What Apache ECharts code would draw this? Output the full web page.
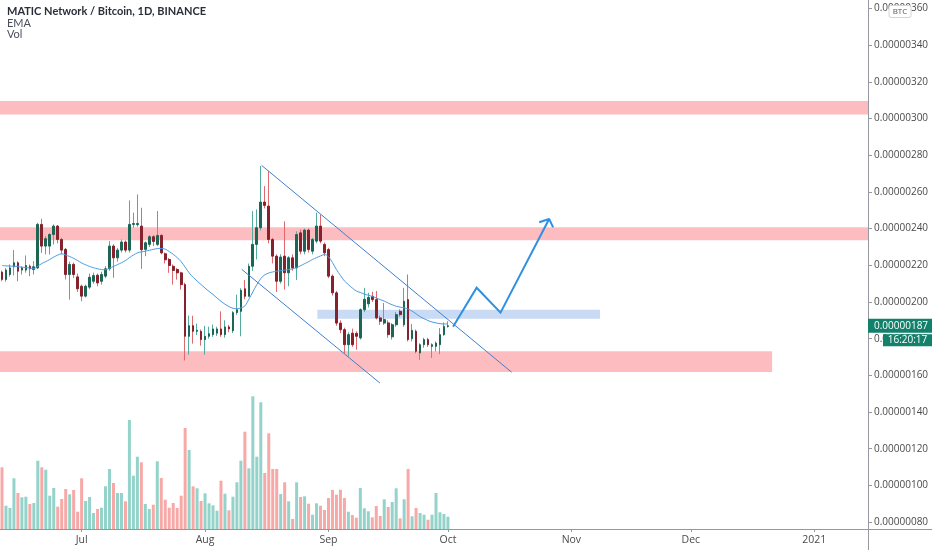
<!DOCTYPE html>
<html><head><meta charset="utf-8">
<script src="https://cdn.jsdelivr.net/npm/echarts@6/dist/echarts.min.js"></script>
<style>html,body{margin:0;padding:0;background:#fff}#c{width:932px;height:550px}</style>
</head><body><div id="c"></div>
<script>
// ---- data (prices in satoshi = 1e-8 BTC) ----
const firstDay = [2020, 5, 11];   // 2020-06-11 (UTC)
const dayCount = 218;             // visible days, 2020-06-11 .. 2021-01-14
const monthNames = ['Jan','Feb','Mar','Apr','May','Jun','Jul','Aug','Sep','Oct','Nov','Dec'];
const priceTicks = [80,100,120,140,160,180,200,220,240,260,280,300,320,340,360];

const open = [216.3,212.3,215.0,219.2,221.4,217.4,217.4,219.5,217.7,218.6,
 242.3,230.5,230.5,236.8,241.4,234.1,228.7,215.0,220.5,213.7,
 208.6,203.2,208.1,211.3,214.6,211.3,214.1,218.1,230.5,224.1,
 228.3,232.7,228.3,242.3,242.2,241.4,228.7,231.4,235.6,231.4,
 236.3,226.3,223.2,219.5,217.7,215.9,209.5,181.3,187.1,184.0,
 184.0,179.5,181.3,182.2,183.0,185.3,182.2,186.4,184.3,194.2,
 194.9,207.2,203.1,219.5,231.4,240.5,254.5,252.3,234.1,225.0,
 211.3,225.0,215.9,224.1,218.6,237.7,227.7,239.2,227.7,233.2,
 241.4,231.4,228.6,214.1,205.0,188.5,184.9,176.7,183.0,182.9,
 180.4,195.8,199.0,203.1,201.3,191.3,188.5,188.6,181.0,187.6,
 194.9,187.6,201.3,180.0,184.0,172.2,176.7,179.5,175.8,175.8,
 176.7,182.2,186.7];
const high = [217.2,218.5,220.5,228.3,222.2,219.5,225.4,220.5,222.3,243.2,
 245.4,236.0,237.5,242.3,242.0,235.0,229.5,222.0,221.5,215.5,
 209.5,209.5,215.5,216.0,215.5,216.5,219.5,233.2,231.5,229.5,
 234.1,233.5,255.4,248.7,258.7,251.4,233.0,236.5,236.5,249.6,
 237.0,227.0,224.0,220.5,218.5,216.5,210.5,192.6,192.5,188.2,
 185.0,187.0,186.5,187.7,186.5,194.9,190.0,187.5,195.0,204.0,
 207.5,212.0,221.0,249.6,250.5,274.2,263.2,271.4,235.0,226.0,
 226.0,244.0,225.0,226.0,238.5,239.5,240.0,240.0,235.0,248.7,
 247.7,232.5,229.5,215.0,206.0,190.0,186.0,183.5,185.5,184.0,
 196.5,207.7,205.0,205.6,206.0,192.5,199.5,190.0,188.5,194.5,
 196.0,207.7,215.0,188.0,185.0,177.5,180.5,180.5,177.5,178.5,
 185.8,188.8,189.5];
const low = [211.3,211.0,213.8,214.5,211.3,215.0,216.0,214.1,215.0,218.0,
 226.8,226.0,225.9,231.4,232.0,226.0,212.3,201.3,213.0,205.5,
 200.4,202.5,207.0,210.0,208.6,209.5,213.0,217.0,213.2,222.0,
 227.0,227.0,227.0,240.5,241.0,218.1,225.0,230.0,230.5,230.5,
 226.0,221.0,215.9,209.5,212.2,206.8,168.1,171.3,177.3,182.0,
 176.2,171.3,180.0,181.0,181.5,181.0,180.5,183.5,183.0,193.0,
 181.3,201.5,203.0,217.0,223.2,239.0,251.0,232.0,221.0,205.5,
 210.0,206.8,208.6,217.0,212.0,226.0,226.0,227.0,226.0,232.0,
 232.0,225.0,213.0,203.5,187.0,183.0,172.0,170.3,175.5,174.0,
 179.5,194.5,197.0,200.0,190.5,187.5,187.5,180.5,179.5,186.5,
 192.0,186.5,178.5,178.5,172.0,168.5,175.0,175.5,169.5,173.0,
 171.5,181.5,186.0];
const close = [212.3,217.4,218.6,221.4,216.8,218.6,219.9,218.1,219.2,242.3,
 230.5,234.5,236.8,241.4,234.1,228.3,215.0,220.5,215.0,207.2,
 203.2,208.6,213.5,214.4,210.4,215.0,218.1,230.5,224.1,228.3,
 232.7,228.3,242.3,242.8,242.8,228.5,232.3,235.6,233.0,236.3,
 226.8,223.0,219.9,217.2,215.9,209.5,181.3,187.1,184.0,184.6,
 179.5,181.3,182.7,185.3,185.3,182.2,186.4,185.3,194.2,195.8,
 206.4,203.1,219.5,231.4,240.5,254.5,252.7,234.1,225.0,211.3,
 224.5,215.9,224.1,218.6,236.8,227.7,239.2,228.6,234.1,241.4,
 233.2,226.8,214.1,205.0,188.5,184.9,176.7,182.2,176.7,181.3,
 195.8,201.5,202.5,201.3,191.3,189.5,190.4,182.2,187.6,193.1,
 193.1,200.4,179.5,184.5,173.1,176.7,179.5,176.7,176.7,177.6,
 182.2,186.7,187.0];
const volume = [61.7,23.3,21,50.7,36,31.7,32.3,25,26,68.3,
 61.7,59.3,33.3,41,22.3,30,40,34.7,39,17.3,
 50.7,28,32,16,20,21.3,42.7,60,46,36,
 36,27.7,109,53.3,72.3,66.7,25,20,24.3,67.7,
 51,29.3,21.3,26,21,33.3,101,79,42.7,40.7,
 28,35.7,25.7,23.7,18.3,48.3,35.3,18.7,32.3,46.7,
 68.3,97.3,60.7,132.7,72.3,126.7,56,95.7,60,60,
 35,46.7,27.7,10,46.7,32,32.7,25.3,14.3,25.7,
 23.3,19,31,39,34.3,39.3,31,17.3,14,11.3,
 41,20.7,17.7,11.7,23,13,29.7,22,27,40.7,
 10.7,29.7,60,12.7,21,16,14.3,9.3,14.3,36,
 16.7,15,12.3];
const ema = [219.9,219.7,219.6,219.5,219.3,219.0,218.8,218.5,218.3,219.5,
 221.0,222.0,223.2,224.5,225.6,226.3,225.6,224.8,223.8,222.6,
 221.3,220.3,219.4,218.7,218.1,217.7,217.6,218.5,219.4,220.4,
 221.4,222.6,224.2,225.6,226.8,227.3,227.7,228.2,228.7,229.1,
 229.2,228.8,227.5,226.0,224.2,222.0,219.0,215.9,213.5,211.5,
 209.5,207.6,205.8,204.1,202.2,200.4,198.8,197.5,196.6,196.3,
 196.8,197.9,201.5,205.5,209.5,212.8,214.8,215.8,216.4,216.8,
 217.1,217.4,217.7,218.1,218.8,219.8,220.9,222.0,223.2,224.2,
 225.1,225.9,224.6,221.5,217.7,214.5,211.5,209.5,207.6,206.0,
 205.2,204.3,203.7,203.0,202.2,201.3,200.5,199.4,198.5,197.7,
 197.2,196.8,196.2,195.0,193.6,192.0,190.9,189.9,189.1,188.6,
 188.2,188.0,188.2];

// drawings (date, price)
const resistanceBands = [[302.3, 309.6], [233.7, 240.8]];
const supportBand = { to: '2020-12-21 10:00', low: 161.8, high: 173.1 };
const demandZone = { from: '2020-08-29 05:00', to: '2020-11-08 05:00', low: 190.8, high: 195.8 };
const upperChannel = [['2020-08-15 05:00', 274.5], ['2020-10-17 00:00', 161.7]];
const lowerChannel = [['2020-08-10 05:00', 217.8], ['2020-09-13 22:00', 155.8]];
const forecastPath = [['2020-10-02 07:00', 186.5], ['2020-10-08 05:00', 207.8], ['2020-10-14 05:00', 194.2], ['2020-10-26 10:00', 245.3]];
const arrowHead = [['2020-10-23 22:00', 243.5], ['2020-10-26 10:00', 245.3], ['2020-10-27 10:00', 240.7]];
const titleLines = ['MATIC Network / Bitcoin, 1D, BINANCE', 'EMA', 'Vol'];
const lastPrice = 187;
const countdown = '16:20:17';

// ---- helpers ----
const DAY = 864e5;
const t0 = Date.UTC(firstDay[0], firstDay[1], firstDay[2]);
function ts(s) {
  const m = s.match(/(\d+)-(\d+)-(\d+)(?: (\d+):(\d+))?/);
  return Date.UTC(+m[1], +m[2] - 1, +m[3], +(m[4] || 0), +(m[5] || 0));
}
const categories = [];
for (let i = 0; i < dayCount; i++) categories.push(new Date(t0 + i * DAY).toISOString().slice(0, 10));
const wickData = open.map((o, i) => [o, close[i], low[i], high[i]]);
const bodyData = open.map((o, i) => [o, close[i], Math.min(o, close[i]), Math.max(o, close[i])]);
const volData = volume.map((v, i) => ({ value: v, itemStyle: { color: close[i] >= open[i] ? '#93d3c9' : '#f6a9a7' } }));
const pts = arr => arr.map(p => [ts(p[0]), p[1]]);
const isMonthStart = (idx, val) => val.slice(8) === '01';

const FONT = 'Open Sans';
const AX = '#9598a1';
const chart = echarts.init(document.getElementById('c'));
chart.setOption({
  animation: false,
  backgroundColor: '#ffffff',
  textStyle: { fontFamily: FONT },
  grid: [
    { left: 0, right: 64, top: 0, bottom: 21 },
    { left: 0, right: 64, top: 389, bottom: 21 }
  ],
  xAxis: [
    { type: 'category', gridIndex: 0, data: categories, boundaryGap: true,
      axisLine: { show: false },
      axisTick: { show: true, interval: isMonthStart, alignWithLabel: true, length: 3, lineStyle: { color: AX } },
      axisLabel: { interval: isMonthStart, margin: 6, color: '#4a4a4a', fontSize: 10.5, fontFamily: FONT,
        formatter: v => v.slice(5) === '01-01' ? v.slice(0, 4) : monthNames[+v.slice(5, 7) - 1] },
      splitLine: { show: false } },
    { type: 'value', gridIndex: 0, min: t0 - DAY / 2, max: t0 + (dayCount - 0.5) * DAY, show: false },
    { type: 'category', gridIndex: 1, data: categories, boundaryGap: true, show: false }
  ],
  yAxis: [
    { type: 'value', gridIndex: 0, position: 'right', min: 76.2, max: 364.7, scale: true,
      axisLine: { show: false },
      axisTick: { show: true, length: 4, customValues: priceTicks, lineStyle: { color: AX } },
      axisLabel: { customValues: priceTicks, margin: 6, color: '#4a4a4a', fontSize: 10, fontFamily: FONT,
        formatter: v => (v / 1e8).toFixed(8) },
      splitLine: { show: false } },
    { type: 'value', gridIndex: 1, min: 0, max: 140, show: false }
  ],
  series: [
    { name: 'zones', type: 'line', xAxisIndex: 1, yAxisIndex: 0, data: [], z: 1, silent: true,
      markArea: { silent: true, data: [
        [{ yAxis: resistanceBands[0][0], itemStyle: { color: '#fdbcbf' } }, { yAxis: resistanceBands[0][1] }],
        [{ yAxis: resistanceBands[1][0], itemStyle: { color: '#fdbcbf' } }, { yAxis: resistanceBands[1][1] }],
        [{ yAxis: supportBand.low, itemStyle: { color: '#fdbcbf' } }, { xAxis: ts(supportBand.to), yAxis: supportBand.high }],
        [{ xAxis: ts(demandZone.from), yAxis: demandZone.low, itemStyle: { color: '#c9daf5' } }, { xAxis: ts(demandZone.to), yAxis: demandZone.high }]
      ] } },
    { name: 'Vol', type: 'bar', xAxisIndex: 2, yAxisIndex: 1, data: volData, barWidth: 3, z: 2, silent: true },
    { name: 'wick', type: 'candlestick', xAxisIndex: 0, yAxisIndex: 0, data: wickData, barWidth: 1, z: 4, silent: true,
      itemStyle: { color: '#52ad9c', color0: '#e0696e', borderColor: '#52ad9c', borderColor0: '#e0696e', borderWidth: 1 } },
    { name: 'body', type: 'candlestick', xAxisIndex: 0, yAxisIndex: 0, data: bodyData, barWidth: 2.2, z: 5, silent: true,
      itemStyle: { color: '#1d6555', color0: '#86222e', borderColor: '#1d6555', borderColor0: '#86222e', borderWidth: 1 } },
    { name: 'EMA', type: 'line', xAxisIndex: 0, yAxisIndex: 0, data: ema, smooth: 0.4, showSymbol: false, z: 6, silent: true,
      lineStyle: { color: '#4a9be0', width: 1 } },
    { name: 'upper', type: 'line', xAxisIndex: 1, yAxisIndex: 0, data: pts(upperChannel), showSymbol: false, z: 7, silent: true,
      lineStyle: { color: '#3f7fcf', width: 1 } },
    { name: 'lower', type: 'line', xAxisIndex: 1, yAxisIndex: 0, data: pts(lowerChannel), showSymbol: false, z: 7, silent: true,
      lineStyle: { color: '#3f7fcf', width: 1 } },
    { name: 'path', type: 'line', xAxisIndex: 1, yAxisIndex: 0, data: pts(forecastPath), showSymbol: false, z: 8, silent: true,
      lineStyle: { color: '#2f90e3', width: 2, join: 'miter' } },
    { name: 'head', type: 'line', xAxisIndex: 1, yAxisIndex: 0, data: pts(arrowHead), showSymbol: false, z: 8, silent: true,
      lineStyle: { color: '#2f90e3', width: 2 } }
  ]
});

const yLast = chart.convertToPixel({ yAxisIndex: 0 }, lastPrice);
const W = 932, H = 550, axisX = 868.5, axisY = 529.5;
chart.setOption({
  graphic: [
    { type: 'line', shape: { x1: 0, y1: axisY, x2: W, y2: axisY }, style: { stroke: AX, lineWidth: 1 }, z: 50 },
    { type: 'line', shape: { x1: axisX, y1: 0, x2: axisX, y2: H }, style: { stroke: AX, lineWidth: 1 }, z: 50 },
    { type: 'text', x: 7, y: 11, style: { text: titleLines[0], fill: '#2a2e39', font: 'bold 11px Lato', verticalAlign: 'middle' }, z: 50 },
    { type: 'text', x: 7, y: 23, style: { text: titleLines[1], fill: '#4a4e59', font: '11px Lato', verticalAlign: 'middle' }, z: 50 },
    { type: 'text', x: 7, y: 34.5, style: { text: titleLines[2], fill: '#4a4e59', font: '11px Lato', verticalAlign: 'middle' }, z: 50 },
    { type: 'rect', shape: { x: 889, y: 5.5, width: 22, height: 12, r: 2 }, style: { fill: '#fff', stroke: '#d1d4dc', lineWidth: 1 }, z: 60 },
    { type: 'text', x: 900, y: 11.5, style: { text: 'BTC', fill: '#555', font: '8px "Open Sans"', align: 'center', verticalAlign: 'middle' }, z: 61 },
    { type: 'rect', shape: { x: 868, y: yLast - 7, width: 64, height: 14 }, style: { fill: '#12806a' }, z: 60 },
    { type: 'text', x: 874, y: yLast, style: { text: (lastPrice / 1e8).toFixed(8), fill: '#fff', font: '10px "Open Sans"', verticalAlign: 'middle' }, z: 61 },
    { type: 'rect', shape: { x: 883, y: yLast + 8.5, width: 49, height: 12 }, style: { fill: '#12806a' }, z: 60 },
    { type: 'text', x: 907.5, y: yLast + 14.5, style: { text: countdown, fill: '#fff', font: '10px "Open Sans"', align: 'center', verticalAlign: 'middle' }, z: 61 }
  ]
});
</script></body></html>
